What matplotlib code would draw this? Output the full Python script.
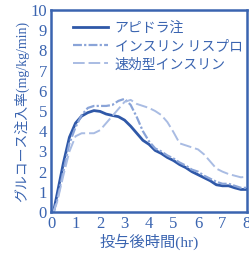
import matplotlib
matplotlib.use("Agg")
import matplotlib.pyplot as plt

t = [0.1, 0.25, 0.5, 0.75, 1.0, 1.25, 1.5, 1.75, 2.0, 2.25, 2.5, 2.75, 3.0, 3.25, 3.5, 3.75,
     4.0, 4.25, 4.5, 4.75, 5.0, 5.25, 5.5, 5.75, 6.0, 6.25, 6.5, 6.75, 7.0, 7.25, 7.5, 7.75, 8.0]
apidra = [0, 0.9, 2.4, 3.7, 4.4, 4.75, 4.92, 5.02, 4.98, 4.85, 4.78, 4.72, 4.55, 4.25, 3.9, 3.55,
          3.35, 3.05, 2.9, 2.7, 2.55, 2.35, 2.2, 2.0, 1.85, 1.7, 1.55, 1.35, 1.3, 1.3, 1.2, 1.12, 1.12]
lispro = [0, 0.6, 2.0, 3.4, 4.2, 4.8, 5.15, 5.25, 5.25, 5.25, 5.3, 5.5, 5.6, 5.3, 4.7, 4.0,
          3.5, 3.15, 3.0, 2.8, 2.65, 2.45, 2.3, 2.1, 2.0, 1.8, 1.65, 1.5, 1.4, 1.4, 1.3, 1.2, 1.2]
regular = [0, 0.5, 1.8, 3.0, 3.75, 3.9, 3.9, 3.9, 4.05, 4.4, 4.75, 5.1, 5.45, 5.55, 5.35, 5.25,
           5.15, 5.0, 4.8, 4.45, 3.95, 3.4, 3.3, 3.2, 3.1, 2.85, 2.5, 2.15, 2.0, 1.88, 1.8, 1.72, 1.75]
labels = ["アピドラ注", "インスリン リスプロ", "速効型インスリン"]
xticks = list(range(0, 9))
yticks = list(range(0, 11))

blue = "#3a64b0"
fig = plt.figure(figsize=(2.49, 2.54), dpi=100)
ax = fig.add_axes([0.205, 0.165, 0.787, 0.796])

ax.plot(t, apidra, color="#2f58a8", lw=2.0, label=labels[0])
ax.plot(t, lispro, color="#8aa4d8", lw=1.6, ls=(0, (4, 1, 1, 1)), label=labels[1])
ax.plot(t, regular, color="#a9bce3", lw=1.4, ls=(0, (6, 2)), label=labels[2])

ax.set_xlim(0, 8)
ax.set_ylim(0, 10)
ax.set_xticks(xticks)
ax.set_yticks(yticks)
for s in ax.spines.values():
    s.set_color(blue)
    s.set_linewidth(1.8)
ax.tick_params(length=0, pad=3, labelcolor=blue, labelsize=12)
for lab in ax.get_xticklabels() + ax.get_yticklabels():
    lab.set_family("Liberation Serif")

fam = ["Liberation Serif", "Noto Sans CJK JP"]
ax.set_ylabel("グルコース注入率(mg/kg/min)", family=fam, fontsize=10, color=blue, labelpad=1)
ax.set_xlabel("投与後時間(hr)", family=fam, fontsize=11, color=blue, labelpad=1)

leg = ax.legend(loc="upper left", bbox_to_anchor=(0.112, 0.945), frameon=False,
                prop={"family": "Noto Sans CJK JP", "size": 10},
                handlelength=2.5, handletextpad=0.5, labelspacing=0.3, borderaxespad=0,
                borderpad=0, labelcolor=blue)

fig.savefig("out.png", dpi=100)
